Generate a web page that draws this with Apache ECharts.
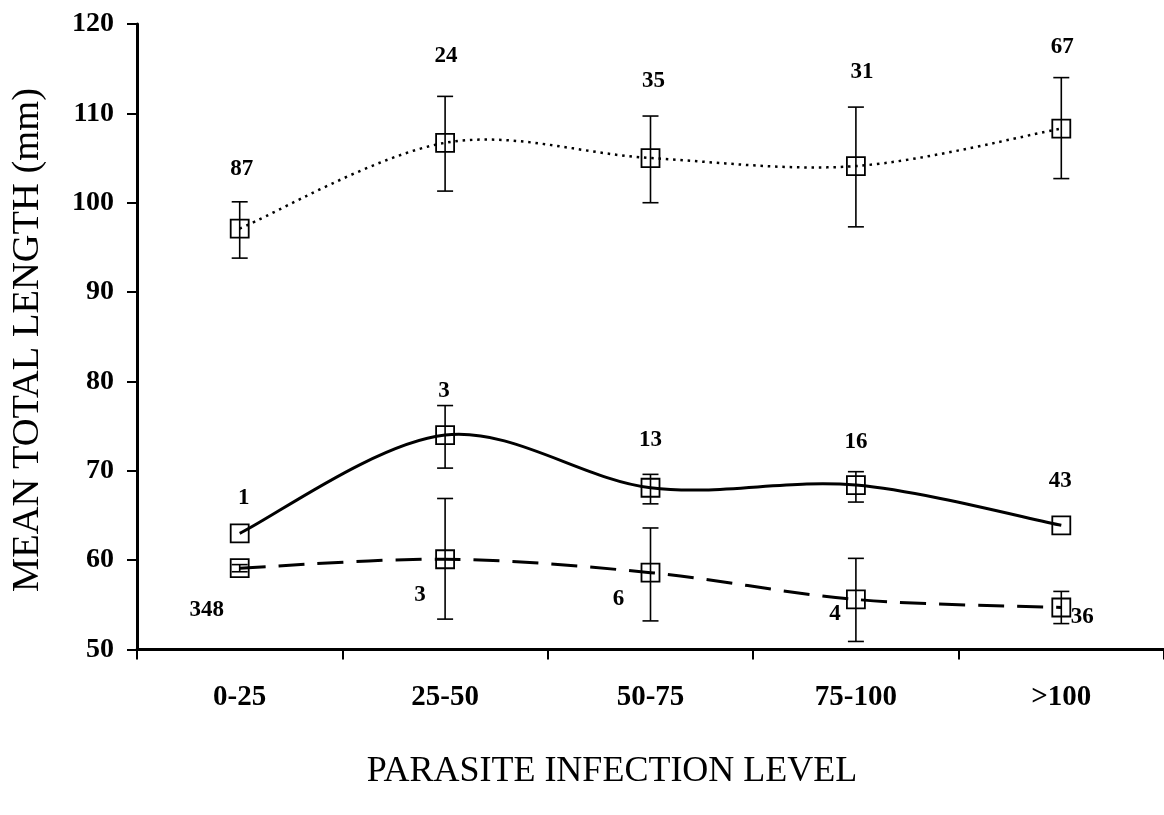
<!DOCTYPE html>
<html>
<head>
<meta charset="utf-8">
<script src="https://cdn.jsdelivr.net/npm/echarts@6/dist/echarts.min.js"></script>
<style>
  html, body { margin: 0; padding: 0; background: #fff; }
  #chart { width: 1164px; height: 815px; }
</style>
</head>
<body>
<div id="chart"></div>
<script>
// Infection level classes
const categories = ['0-25', '25-50', '50-75', '75-100', '>100'];
const yTicks = [50, 60, 70, 80, 90, 100, 110, 120];

// Upper group (dotted line): mean, error-bar low/high, sample size
const upperMean = [97.1, 106.7, 105.0, 104.1, 108.3];
const upperLow  = [93.8, 101.3, 100.0, 97.3, 102.7];
const upperHigh = [100.1, 111.9, 109.7, 110.7, 114.0];
const upperN    = [87, 24, 35, 31, 67];

// Middle group (solid line)
const midMean = [63.0, 74.0, 68.1, 68.4, 63.9];
const midLow  = [null, 70.3, 66.3, 66.5, null];
const midHigh = [null, 77.3, 69.6, 69.9, null];
const midN    = [1, 3, 13, 16, 43];

// Lower group (dashed line)
const lowMean = [59.1, 60.1, 58.6, 55.6, 54.7];
const lowLow  = [58.7, 53.4, 53.2, 50.9, 52.9];
const lowHigh = [59.5, 66.9, 63.6, 60.2, 56.5];
const lowN    = [348, 3, 6, 4, 36];

// Sample-size label placement relative to each marker centre (px)
const upperLabelShift = [[2, -60], [1, -87], [3, -77], [6, -94], [1, -81]];
const midLabelShift   = [[4, -35], [-1, -44], [0, -48], [0, -43], [-1, -44]];
const lowLabelShift   = [[-33, 42], [-25, 36], [-32, 26], [-21, 15], [21, 10]];

const SERIF = "'Liberation Serif', 'Times New Roman', serif";

// Markers (open squares), error bars and sample-size labels
function markerSeries(means, lows, highs, ns, shifts) {
  return {
    type: 'custom',
    z: 5,
    data: categories.map((c, i) => [i, means[i], lows[i] == null ? means[i] : lows[i], highs[i] == null ? means[i] : highs[i]]),
    encode: { x: 0, y: [1, 2, 3] },
    renderItem: function (params, api) {
      const i = params.dataIndex;
      const c = api.coord([i, means[i]]);
      const half = 9, cap = 8;
      const children = [];
      if (lows[i] != null && highs[i] != null) {
        const lo = api.coord([i, lows[i]]);
        const hi = api.coord([i, highs[i]]);
        const st = { stroke: '#000', lineWidth: 1.6 };
        children.push({ type: 'line', shape: { x1: c[0], y1: hi[1], x2: c[0], y2: lo[1] }, style: st });
        children.push({ type: 'line', shape: { x1: c[0] - cap, y1: hi[1], x2: c[0] + cap, y2: hi[1] }, style: st });
        children.push({ type: 'line', shape: { x1: c[0] - cap, y1: lo[1], x2: c[0] + cap, y2: lo[1] }, style: st });
      }
      children.push({
        type: 'rect',
        shape: { x: c[0] - half, y: c[1] - half, width: half * 2, height: half * 2 },
        style: { fill: 'none', stroke: '#000', lineWidth: 1.8 }
      });
      children.push({
        type: 'text',
        x: c[0] + shifts[i][0],
        y: c[1] + shifts[i][1],
        style: {
          text: String(ns[i]),
          textAlign: 'center',
          textVerticalAlign: 'middle',
          font: 'bold 23px ' + SERIF,
          fill: '#000'
        }
      });
      return { type: 'group', children: children };
    }
  };
}

// Smoothed connecting line (Catmull-Rom style cubic Bezier through the means)
function curve(means, style) {
  return {
    type: 'custom',
    z: 3,
    silent: true,
    data: means.map((v, i) => [i, v]),
    encode: { x: 0, y: 1 },
    renderItem: function (params, api) {
      if (params.dataIndex !== 0) return null;
      const p = means.map((v, i) => api.coord([i, v]));
      let d = 'M' + p[0][0] + ' ' + p[0][1];
      for (let i = 0; i < p.length - 1; i++) {
        const p0 = p[i - 1] || p[i];
        const p1 = p[i];
        const p2 = p[i + 1];
        const p3 = p[i + 2] || p[i + 1];
        const c1x = p1[0] + (p2[0] - p0[0]) / 6;
        const c1y = p1[1] + (p2[1] - p0[1]) / 6;
        const c2x = p2[0] - (p3[0] - p1[0]) / 6;
        const c2y = p2[1] - (p3[1] - p1[1]) / 6;
        d += ' C' + c1x + ' ' + c1y + ' ' + c2x + ' ' + c2y + ' ' + p2[0] + ' ' + p2[1];
      }
      return {
        type: 'path',
        shape: { pathData: d },
        style: Object.assign({ fill: 'none', stroke: '#000' }, style)
      };
    }
  };
}

const chart = echarts.init(document.getElementById('chart'));
chart.setOption({
  animation: false,
  backgroundColor: '#fff',
  grid: { left: 137, top: 24, width: 1034, height: 625.5 },
  xAxis: {
    type: 'category',
    data: categories,
    boundaryGap: true,
    axisLine: { lineStyle: { color: '#000', width: 3 } },
    axisTick: { show: true, length: 10, lineStyle: { color: '#000', width: 2 } },
    axisLabel: {
      margin: 34,
      color: '#000',
      fontFamily: SERIF,
      fontWeight: 'bold',
      fontSize: 29
    },
    splitLine: { show: false }
  },
  yAxis: {
    type: 'value',
    min: yTicks[0],
    max: yTicks[yTicks.length - 1],
    interval: yTicks[1] - yTicks[0],
    axisLine: { show: true, lineStyle: { color: '#000', width: 3 } },
    axisTick: { show: true, length: 10, lineStyle: { color: '#000', width: 2 } },
    axisLabel: {
      margin: 23,
      color: '#000',
      fontFamily: SERIF,
      fontWeight: 'bold',
      fontSize: 28
    },
    splitLine: { show: false }
  },
  graphic: [
    {
      type: 'text',
      x: 27.5, y: 340,
      rotation: Math.PI / 2,
      style: {
        text: 'MEAN TOTAL LENGTH (mm)',
        textAlign: 'center',
        textVerticalAlign: 'middle',
        font: '38.5px ' + SERIF,
        fill: '#000'
      }
    },
    {
      type: 'text',
      x: 612, y: 772,
      style: {
        text: 'PARASITE INFECTION LEVEL',
        textAlign: 'center',
        textVerticalAlign: 'middle',
        font: '36px ' + SERIF,
        fill: '#000'
      }
    }
  ],
  series: [
    curve(upperMean, { lineWidth: 2.5, lineDash: [2.5, 4.8], lineCap: 'butt' }),
    curve(midMean, { lineWidth: 3 }),
    curve(lowMean, { lineWidth: 3, lineDash: [26, 13] }),
    markerSeries(upperMean, upperLow, upperHigh, upperN, upperLabelShift),
    markerSeries(midMean, midLow, midHigh, midN, midLabelShift),
    markerSeries(lowMean, lowLow, lowHigh, lowN, lowLabelShift)
  ]
});
</script>
</body>
</html>
